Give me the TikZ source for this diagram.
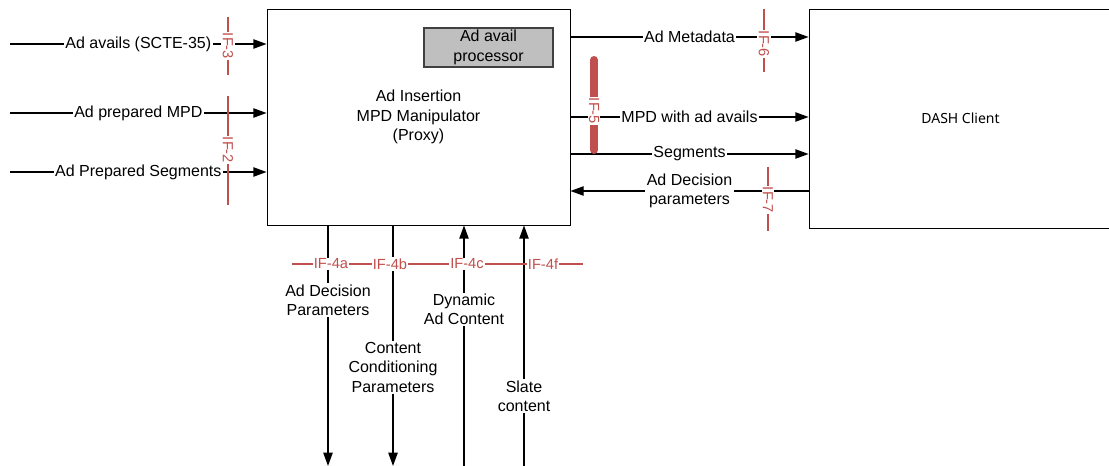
\documentclass[tikz,border=0pt]{standalone}
\usepackage{fontspec}
\setmainfont{Liberation Sans}
\newfontfamily\clientfont{Noto Sans}
\usetikzlibrary{arrows.meta, positioning}
\definecolor{ifred}{RGB}{192,80,77}
\definecolor{procgray}{RGB}{191,191,191}
\definecolor{procborder}{RGB}{64,64,64}

\begin{document}
\begin{tikzpicture}[
    x=0.75pt, y=-0.75pt,
    font=\fontsize{12}{14.5}\selectfont,
    % styles
    box/.style={
        draw, line width=0.6pt, align=center, inner sep=0pt
    },
    proc/.style={
        draw=procborder, fill=procgray, line width=0.8pt, align=center, inner sep=0pt
    },
    flow/.style={
        -{Triangle[length=10pt, width=7pt]}, line width=1.1pt
    },
    lbl/.style={
        fill=white, inner sep=1pt, align=center
    },
    ifline/.style={
        draw=ifred, line width=2pt
    },
    iflbl/.style={
        fill=white, text=ifred, inner sep=1pt, font=\fontsize{11}{13}\selectfont
    }
]
    \useasboundingbox (0,0) rectangle (1109,466);

    % --- 1. BLOCKS ---
    \node[box, minimum width=227.25pt, minimum height=162pt] (proxy) at (418.5,117) {
        Ad Insertion\\
        MPD Manipulator\\
        (Proxy)
    };
    \node[proc, minimum width=96.75pt, minimum height=29.25pt] (processor) at (488.5,47.5) {
        Ad avail\\
        processor
    };
    \node[box, minimum width=227.25pt, minimum height=164.25pt, font=\clientfont\fontsize{10.5}{12}\selectfont] (client) at (960.5,118.5) {DASH Client};

    % --- 2. INPUTS (Left) ---
    \coordinate (scte_in) at (10,44);
    \coordinate (mpd_in) at (10,113);
    \coordinate (seg_in) at (10,172);

    \draw[flow] (scte_in) -- node[lbl] {Ad avails (SCTE-35)} (scte_in -| proxy.west);
    \draw[flow] (mpd_in) -- node[lbl] {Ad prepared MPD} (mpd_in -| proxy.west);
    \draw[flow] (seg_in) -- node[lbl] {Ad Prepared Segments} (seg_in -| proxy.west);

    % --- 3. PROXY <-> CLIENT (Right) ---
    \draw[flow] (proxy.east |- 0,37) -- node[lbl] {Ad Metadata} (client.west |- 0,37);
    \draw[flow] (proxy.east |- 0,117) -- node[lbl] {MPD with ad avails} (client.west |- 0,117);
    \draw[flow] (proxy.east |- 0,154) -- node[lbl] {Segments} (client.west |- 0,154);
    \draw[flow] (client.west |- 0,191) -- node[lbl] {Ad Decision\\parameters} (proxy.east |- 0,191);

    % --- 4. BOTTOM INTERFACES ---
    \coordinate (adp_out) at (328,466);
    \coordinate (ccp_out) at (393,466);
    \coordinate (dyn_in) at (464,466);
    \coordinate (slate_in) at (524,466);

    \draw[flow] (adp_out |- proxy.south) -- node[lbl, pos=0.31] {Ad Decision\\Parameters} (adp_out);
    \draw[flow] (ccp_out |- proxy.south) -- node[lbl, pos=0.59] {Content\\Conditioning\\Parameters} (ccp_out);
    \draw[flow] (dyn_in) -- node[lbl, pos=0.65] {Dynamic\\Ad Content} (dyn_in |- proxy.south);
    \draw[flow] (slate_in) -- node[lbl, pos=0.29] {Slate\\content} (slate_in |- proxy.south);

    % --- 5. IF MARKERS ---
    \draw[ifline] (228,17) -- (228,75);
    \node[iflbl, rotate=-90] (if3) at (228,46) {IF-3};
    \draw[ifline] (228,96) -- (228,205);
    \node[iflbl, rotate=-90] (if2) at (228,150) {IF-2};

    \draw[ifline] (764,9) -- (764,72);
    \node[iflbl, rotate=-90] (if6) at (764,44) {IF-6};
    \draw[ifline, line width=6pt, line cap=round] (594,60) -- (594,150);
    \node[iflbl, rotate=-90] (if5) at (594,111) {IF-5};
    \draw[ifline] (768,167) -- (768,231);
    \node[iflbl, rotate=-90] (if7) at (768,200) {IF-7};

    \draw[ifline] (292,264) -- (583,264);
    \node[iflbl] (if4a) at (331,264) {IF-4a};
    \node[iflbl] (if4b) at (390,264) {IF-4b};
    \node[iflbl] (if4c) at (467,264) {IF-4c};
    \node[iflbl] (if4f) at (543,264) {IF-4f};

\end{tikzpicture}
\end{document}
